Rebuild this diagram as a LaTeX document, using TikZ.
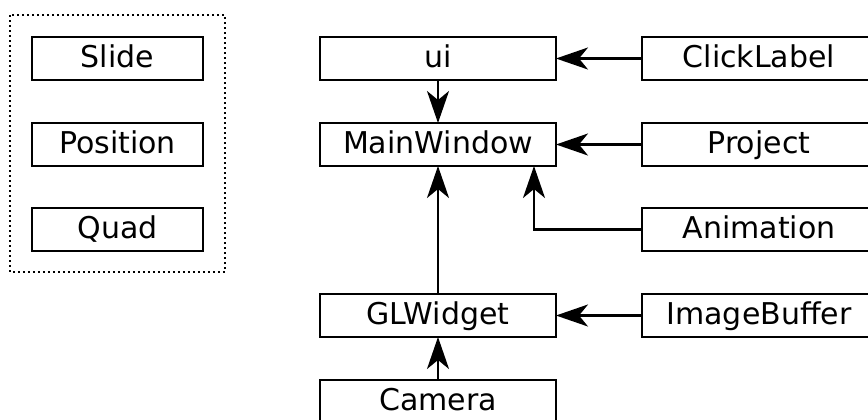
\documentclass[tikz,border=0pt]{standalone}
\usepackage{fontspec}
\setmainfont{DejaVu Sans}
\usetikzlibrary{arrows.meta}
\begin{document}
\begin{tikzpicture}[x=0.5pt,y=-0.5pt,
  box/.style={draw, line width=1.1pt, inner sep=0pt, outer sep=0pt, minimum height=21.5pt, text height=10.8pt, text depth=2.2pt, font=\fontsize{15}{17}\selectfont},
  lbox/.style={box, minimum width=85.5pt},
  cbox/.style={box, minimum width=118pt},
  rbox/.style={box, minimum width=117pt},
  arr/.style={line width=1.1pt, -{Stealth[length=16pt,width=11pt,inset=4.5pt]}},
  dotbox/.style={line width=0.9pt, dash pattern=on 0.9pt off 1.6pt}]
\clip (0,0) rectangle (868,419);
\useasboundingbox (0,0) rectangle (868,419);
\draw[dotbox] (10,15) rectangle (225,272);
\node[lbox] (slide) at (117.5,58.5) {Slide};
\node[lbox] (pos) at (117.5,144.5) {Position};
\node[lbox] (quad) at (117.5,229.5) {Quad};
\node[cbox] (ui) at (438,58.5) {ui};
\node[cbox] (mw) at (438,144.5) {MainWindow};
\node[cbox] (gl) at (438,315.5) {GLWidget};
\node[cbox] (cam) at (438,401.5) {Camera};
\node[rbox] (click) at (759,58.5) {ClickLabel};
\node[rbox] (proj) at (759,144.5) {Project};
\node[rbox] (anim) at (759,229.5) {Animation};
\node[rbox] (img) at (759,315.5) {ImageBuffer};
\draw[arr] (click) -- (ui);
\draw[arr] (proj) -- (mw);
\draw[arr] (img) -- (gl);
\draw[arr] (ui) -- (mw);
\draw[arr] (gl) -- (mw);
\draw[arr] (cam) -- (gl);
\draw[arr] (anim.west) -| ([xshift=-11pt]mw.south east);
\end{tikzpicture}
\end{document}
